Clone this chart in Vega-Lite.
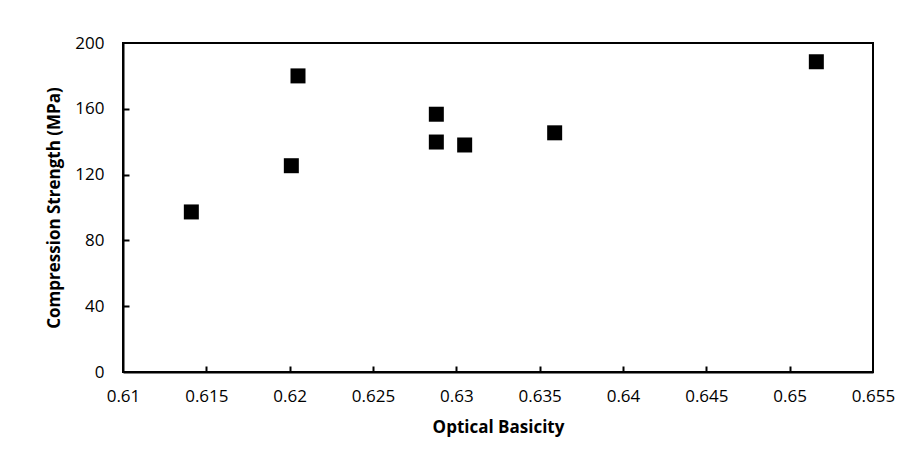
{
  "$schema": "https://vega.github.io/schema/vega-lite/v6.json",
  "width": 750,
  "height": 329,
  "autosize": {"type": "none"},
  "padding": {"left": 123, "top": 43, "right": 38, "bottom": 95},
  "background": "white",
  "config": {
    "view": {"stroke": "black", "strokeWidth": 2},
    "font": "Open Sans",
    "axis": {
      "grid": false,
      "domainColor": "black",
      "domainWidth": 2,
      "tickColor": "black",
      "tickWidth": 2,
      "labelFont": "Open Sans",
      "labelFontSize": 17,
      "labelColor": "black",
      "titleFont": "Open Sans",
      "titleFontSize": 17,
      "titleFontWeight": "bold",
      "titleColor": "black"
    }
  },
  "data": {
    "values": [
      {"basicity": 0.6141, "strength": 97.3},
      {"basicity": 0.6201, "strength": 125.4},
      {"basicity": 0.6205, "strength": 180.0},
      {"basicity": 0.6288, "strength": 156.7},
      {"basicity": 0.6288, "strength": 139.8},
      {"basicity": 0.6305, "strength": 138.0},
      {"basicity": 0.6359, "strength": 145.4},
      {"basicity": 0.6516, "strength": 188.6}
    ]
  },
  "resolve": {"axis": {"x": "independent", "y": "independent"}},
  "layer": [
    {
      "mark": {"type": "point", "shape": "square", "filled": true, "color": "black", "opacity": 1, "size": 225},
      "encoding": {
        "x": {
          "field": "basicity",
          "type": "quantitative",
          "title": "Optical Basicity",
          "scale": {"domain": [0.61, 0.655], "nice": false, "zero": false},
          "axis": {
            "values": [0.61, 0.615, 0.62, 0.625, 0.63, 0.635, 0.64, 0.645, 0.65, 0.655],
            "format": "~g",
            "ticks": false,
            "labelPadding": 16,
            "titlePadding": 15,
            "labelFlush": false
          }
        },
        "y": {
          "field": "strength",
          "type": "quantitative",
          "title": "Compression Strength (MPa)",
          "scale": {"domain": [0, 200], "nice": false},
          "axis": {
            "values": [0, 40, 80, 120, 160, 200],
            "ticks": false,
            "labelPadding": 19,
            "titlePadding": 11,
            "labelFlush": false
          }
        }
      }
    },
    {
      "mark": {"type": "point", "opacity": 0},
      "encoding": {
        "x": {
          "field": "basicity",
          "type": "quantitative",
          "scale": {"domain": [0.61, 0.655], "nice": false, "zero": false},
          "axis": {
            "orient": "top",
            "offset": -329,
            "values": [0.615, 0.62, 0.625, 0.63, 0.635, 0.64, 0.645, 0.65],
            "labels": false,
            "domain": false,
            "title": null,
            "tickSize": 6
          }
        },
        "y": {
          "field": "strength",
          "type": "quantitative",
          "scale": {"domain": [0, 200], "nice": false},
          "axis": {
            "orient": "right",
            "offset": -750,
            "values": [40, 80, 120, 160],
            "labels": false,
            "domain": false,
            "title": null,
            "tickSize": 6
          }
        }
      }
    }
  ]
}
